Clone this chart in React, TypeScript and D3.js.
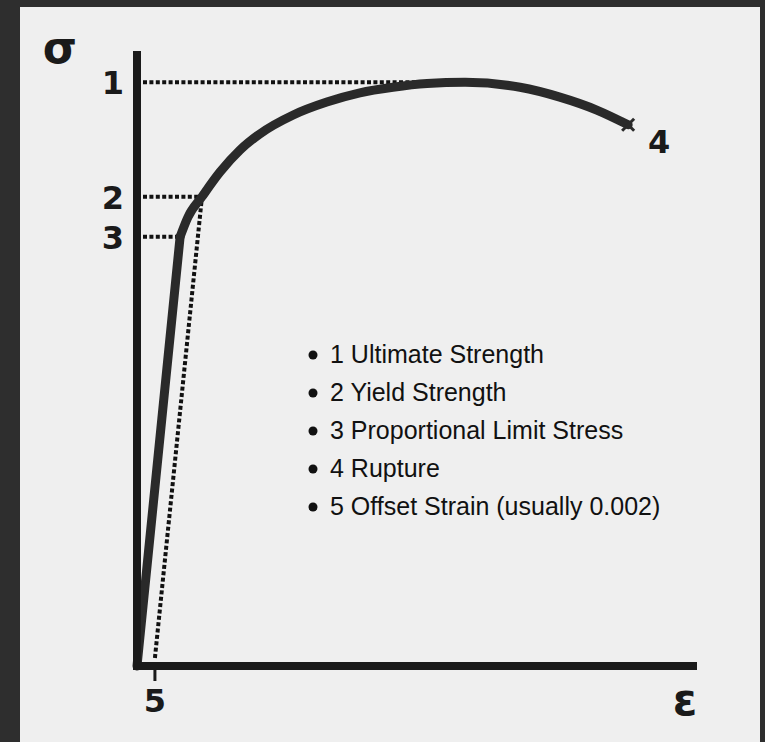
import React from "react";
import * as d3 from "d3";

// stress-strain curve, unitless (strain 0..100, stress 0..100)
const elasticStrain = [0, 7.7];
const elasticStress = [0, 69.8];
const plasticStrain = [7.7, 9.1, 11.6, 14.8, 18.4, 21.9, 27.9, 33.9, 39.8, 45.7, 51.8, 58.6, 68.4, 75.5, 82.1, 87.7];
const plasticStress = [69.8, 73.0, 76.3, 80.3, 83.9, 86.5, 89.6, 91.7, 93.2, 94.1, 94.7, 94.9, 94.1, 92.5, 90.4, 88.0];

// marked points
const levelLabels = ["1", "2", "3"];
const levelStrain = [58.6, 11.6, 7.7];
const levelStress = [94.9, 76.3, 69.8];
const offsetStrain = 3.2;
const offsetLabel = "5";
const ruptureLabel = "4";

const legendItems = [
  "1 Ultimate Strength",
  "2 Yield Strength",
  "3 Proportional Limit Stress",
  "4 Rupture",
  "5 Offset Strain (usually 0.002)",
];

const W = 765;
const H = 742;

export default function App() {
  const x = d3.scaleLinear().domain([0, 100]).range([137, 697]);
  const y = d3.scaleLinear().domain([0, 100]).range([666, 51]);

  const elasticPath =
    d3
      .line<number>()
      .x((d, i) => x(elasticStrain[i]))
      .y((d) => y(d))(elasticStress) || "";

  const plasticPath =
    d3
      .line<number>()
      .x((d, i) => x(plasticStrain[i]))
      .y((d) => y(d))
      .curve(d3.curveMonotoneX)(plasticStress) || "";

  const last = plasticStrain.length - 1;
  const rx = x(plasticStrain[last]);
  const ry = y(plasticStress[last]);

  const labelFont = { fontFamily: "DejaVu Sans", fontWeight: 700, fontSize: 32, fill: "#1a1a1a" } as const;

  return (
    <svg width={W} height={H} style={{ position: "absolute", left: 0, top: 0 }}>
      <rect x={0} y={0} width={W} height={H} fill="#2e2e2e" />
      <rect x={20} y={7} width={740} height={H - 7} fill="#efefef" />

      {/* dotted guides */}
      <g stroke="#111" strokeWidth={4} strokeDasharray="4 2.4" fill="none">
        {levelLabels.map((l, i) => (
          <line
            key={l}
            x1={x(0) + 6}
            x2={x(levelStrain[i])}
            y1={y(levelStress[i])}
            y2={y(levelStress[i])}
          />
        ))}
        <line x1={x(offsetStrain)} y1={y(0) - 8} x2={x(levelStrain[1])} y2={y(levelStress[1])} />
      </g>

      {/* curve */}
      <path d={elasticPath} fill="none" stroke="#2a2a2a" strokeWidth={9} strokeLinecap="round" />
      <path d={plasticPath} fill="none" stroke="#2a2a2a" strokeWidth={9} strokeLinecap="round" />
      <g stroke="#2a2a2a" strokeWidth={3}>
        <line x1={rx - 6} y1={ry - 6} x2={rx + 6} y2={ry + 6} />
        <line x1={rx - 6} y1={ry + 6} x2={rx + 6} y2={ry - 6} />
      </g>

      {/* axes */}
      <line x1={x(0)} y1={y(0) + 4} x2={x(0)} y2={y(100)} stroke="#1a1a1a" strokeWidth={8} />
      <line x1={x(0) - 4} y1={y(0)} x2={x(100)} y2={y(0)} stroke="#1a1a1a" strokeWidth={8} />
      <line x1={x(offsetStrain)} y1={y(0) + 4} x2={x(offsetStrain)} y2={y(0) + 15} stroke="#1a1a1a" strokeWidth={3} />

      {/* axis symbols */}
      <text x={60} y={63} textAnchor="middle" style={{ ...labelFont, fontSize: 44 }}>σ</text>
      <text x={685} y={715} textAnchor="middle" style={{ ...labelFont, fontSize: 44 }}>ε</text>

      {/* point labels */}
      {levelLabels.map((l, i) => (
        <text key={l} x={113} y={y(levelStress[i]) + 12} textAnchor="middle" style={labelFont}>
          {l}
        </text>
      ))}
      <text x={x(offsetStrain)} y={712} textAnchor="middle" style={labelFont}>{offsetLabel}</text>
      <text x={rx + 31} y={ry + 28} textAnchor="middle" style={labelFont}>{ruptureLabel}</text>

      {/* legend */}
      {legendItems.map((t, i) => (
        <g key={t} transform={`translate(0, ${363 + i * 38})`}>
          <circle cx={313} cy={-8} r={4.5} fill="#111" />
          <text x={330} y={0} style={{ fontFamily: "Liberation Sans", fontSize: 25, fill: "#111" }}>
            {t}
          </text>
        </g>
      ))}
    </svg>
  );
}
